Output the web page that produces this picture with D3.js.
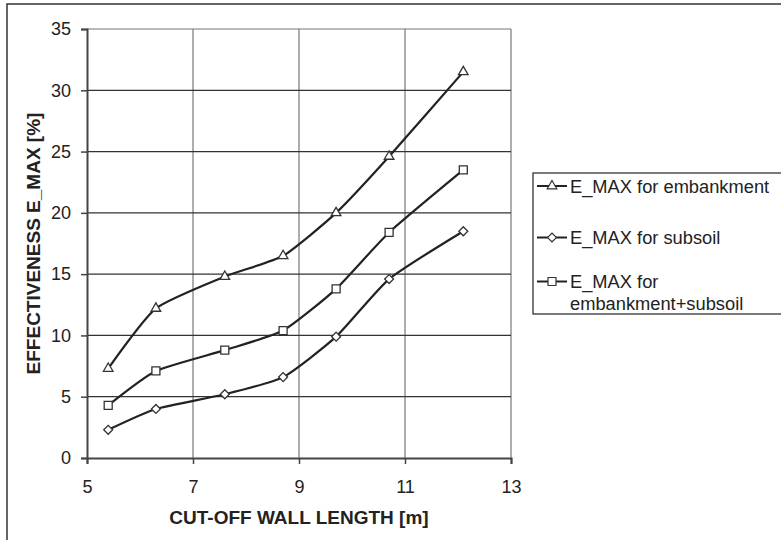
<!DOCTYPE html>
<html>
<head>
<meta charset="utf-8">
<script src="https://cdn.jsdelivr.net/npm/d3@7"></script>
<style>
  body { margin: 0; background: #fff; }
  text { font-family: "Liberation Sans", Arial, sans-serif; fill: #222; }
</style>
</head>
<body>
<div class="graph"></div>
<script>
'use strict'

// wall lengths [m]
const wallLength = [5.4, 6.3, 7.6, 8.7, 9.7, 10.7, 12.1]
// E_MAX values [%]
const embankment = [7.3, 12.2, 14.8, 16.5, 20.0, 24.6, 31.5]
const subsoil = [2.3, 4.0, 5.2, 6.6, 9.9, 14.6, 18.5]
const combined = [4.3, 7.1, 8.8, 10.4, 13.8, 18.4, 23.5]

const xTicks = [5, 7, 9, 11, 13]
const yTicks = [0, 5, 10, 15, 20, 25, 30, 35]

const seriesNames = ['E_MAX for embankment', 'E_MAX for subsoil', 'E_MAX for\nembankment+subsoil']
const seriesValues = [embankment, subsoil, combined]
const seriesMarkers = ['triangle', 'diamond', 'square']

;(function (d3) {
  const W = 781, H = 540
  const margin = { top: 29, right: 270, bottom: 82, left: 87 }
  const width = 511 - margin.left
  const height = 458 - margin.top

  const svg = d3.select('.graph').append('svg')
    .attr('width', W).attr('height', H)

  // outer frame of the chart
  svg.append('rect')
    .attr('x', 7).attr('y', 4)
    .attr('width', W + 10).attr('height', H + 10)
    .attr('fill', 'none').attr('stroke', '#333').attr('stroke-width', 1.5)

  const g = svg.append('g').attr('transform', `translate(${margin.left},${margin.top})`)

  const x = d3.scaleLinear().domain([5, 13]).range([0, width])
  const y = d3.scaleLinear().domain([0, 35]).range([height, 0])

  // grid
  g.selectAll('.vgrid').data(xTicks.slice(1)).join('line')
    .attr('x1', d => x(d)).attr('x2', d => x(d))
    .attr('y1', 0).attr('y2', height)
    .attr('stroke', '#777').attr('stroke-width', 1.2)
  g.selectAll('.hgrid').data(yTicks.slice(1)).join('line')
    .attr('x1', 0).attr('x2', width)
    .attr('y1', d => y(d)).attr('y2', d => y(d))
    .attr('stroke', d => d === 35 ? '#777' : '#333').attr('stroke-width', 1.2)

  // axes
  const xAxis = g.append('g').attr('transform', `translate(0,${height})`)
    .call(d3.axisBottom(x).tickValues(xTicks).tickSize(6).tickPadding(16).tickFormat(d3.format('d')))
  const yAxis = g.append('g')
    .call(d3.axisLeft(y).tickValues(yTicks).tickSize(6).tickPadding(10).tickFormat(d3.format('d')))
  ;[xAxis, yAxis].forEach(a => {
    a.select('.domain').attr('stroke', '#444').attr('stroke-width', 2)
    a.selectAll('.tick line').attr('stroke', '#444').attr('stroke-width', 1.5)
    a.selectAll('.tick text').style('font-size', '18px').style('font-family', '"Liberation Sans", Arial, sans-serif').attr('fill', '#222')
  })

  // axis titles
  svg.append('text')
    .attr('x', margin.left + width / 2).attr('y', 524)
    .attr('text-anchor', 'middle')
    .style('font-size', '19px').style('font-weight', 'bold')
    .text('CUT-OFF WALL LENGTH [m]')
  svg.append('text')
    .attr('transform', `translate(40,${margin.top + height / 2}) rotate(-90)`)
    .attr('text-anchor', 'middle')
    .style('font-size', '19px').style('font-weight', 'bold')
    .text('EFFECTIVENESS E_MAX [%]')

  // markers: diamond is a square turned 45 degrees
  const symbols = {
    triangle: d3.symbol().type(d3.symbolTriangle).size(40),
    diamond: d3.symbol().type(d3.symbolSquare).size(40),
    square: d3.symbol().type(d3.symbolSquare).size(64)
  }
  const markerRot = { triangle: 0, diamond: 45, square: 0 }

  const line = d3.line()
    .x((d, i) => x(wallLength[i]))
    .y(d => y(d))
    .curve(d3.curveCardinal.tension(0.45))

  seriesValues.forEach((vals, s) => {
    const m = seriesMarkers[s]
    g.append('path').datum(vals)
      .attr('d', line)
      .attr('fill', 'none').attr('stroke', '#222').attr('stroke-width', 2.2)
    g.selectAll(null).data(vals).join('path')
      .attr('transform', (d, i) => `translate(${x(wallLength[i])},${y(d)}) rotate(${markerRot[m]})`)
      .attr('d', symbols[m])
      .attr('fill', '#fff').attr('stroke', '#333').attr('stroke-width', 1.3)
  })

  // legend
  const lg = svg.append('g')
  lg.append('rect')
    .attr('x', 533).attr('y', 173).attr('width', 260).attr('height', 141)
    .attr('fill', '#fff').attr('stroke', '#333').attr('stroke-width', 1.3)
  const entryY = [186, 237.5, 281.5]
  seriesNames.forEach((name, s) => {
    const ey = entryY[s]
    const m = seriesMarkers[s]
    lg.append('line').attr('x1', 537).attr('x2', 567).attr('y1', ey).attr('y2', ey)
      .attr('stroke', '#222').attr('stroke-width', 2)
    lg.append('path').attr('transform', `translate(552,${ey}) rotate(${markerRot[m]})`)
      .attr('d', symbols[m])
      .attr('fill', '#fff').attr('stroke', '#333').attr('stroke-width', 1.2)
    const t = lg.append('text').attr('x', 570).attr('y', ey + 6.5).style('font-size', '18.3px')
    name.split('\n').forEach((part, k) => {
      t.append('tspan').attr('x', 570).attr('dy', k === 0 ? 0 : 21.5).text(part)
    })
  })
})(d3)
</script>
</body>
</html>
